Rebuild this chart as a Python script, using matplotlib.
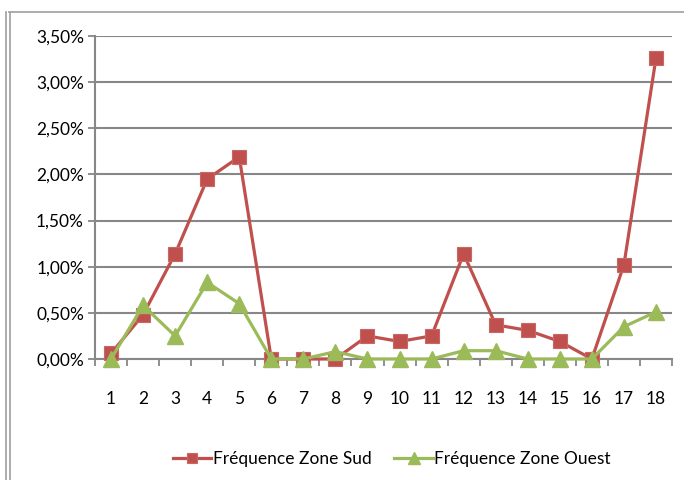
import matplotlib
matplotlib.use("Agg")
import matplotlib.pyplot as plt
from matplotlib.ticker import FuncFormatter, FixedLocator
from matplotlib.lines import Line2D

plt.rcParams['font.family'] = ['Lato', 'DejaVu Sans']

categories = list(range(1, 19))
sud = [0.06, 0.48, 1.14, 1.95, 2.19, 0.0, 0.0, 0.0, 0.25, 0.19, 0.25, 1.14, 0.37, 0.31, 0.19, 0.0, 1.02, 3.26]
ouest = [0.0, 0.58, 0.25, 0.83, 0.60, 0.0, 0.0, 0.08, 0.0, 0.0, 0.0, 0.09, 0.09, 0.0, 0.0, 0.0, 0.35, 0.51]
yticks = [0.0, 0.5, 1.0, 1.5, 2.0, 2.5, 3.0, 3.5]

W, H = 684, 480
fig = plt.figure(figsize=(W / 100, H / 100), dpi=100)
ax = fig.add_axes([95 / W, (H - 359) / H, (672 - 95) / W, (359 - 36) / H])

red = '#C0504D'
green = '#9BBB59'
grid = '#878787'
fs = 12.5

ax.plot(categories, sud, color=red, lw=2.3, marker='s', ms=9.5,
        mfc=red, mec='#C86864', mew=0.8, label='Fréquence Zone Sud', zorder=3,
        clip_on=False)
ax.plot(categories, ouest, color=green, lw=2.3, marker='^', ms=11,
        mfc=green, mec=green, label='Fréquence Zone Ouest', zorder=4,
        clip_on=False)

ax.set_xlim(0.5, 18.5)
ax.set_ylim(0, 3.5)
ax.set_yticks(yticks)
ax.yaxis.set_major_formatter(FuncFormatter(lambda v, p: f"{v:.2f}".replace('.', ',') + '%'))
ax.set_xticks(categories)
ax.set_xticklabels([str(c) for c in categories])
ax.xaxis.set_minor_locator(FixedLocator([i + 0.5 for i in range(0, 19)]))

ax.tick_params(axis='x', which='major', length=0, pad=23, labelsize=fs, colors='black')
ax.tick_params(axis='x', which='minor', length=5, width=1.3, color=grid, direction='out')
ax.tick_params(axis='y', which='major', length=5, width=1.3, color=grid, pad=3, labelsize=fs)

ax.grid(axis='y', color=grid, lw=1.5, zorder=0)
ax.set_axisbelow(True)
for s in ['top', 'right']:
    ax.spines[s].set_visible(False)
ax.spines['left'].set_color(grid)
ax.spines['left'].set_linewidth(1.5)
ax.spines['bottom'].set_color(grid)
ax.spines['bottom'].set_linewidth(1.5)

leg = fig.legend(loc='center', bbox_to_anchor=(392 / W, (H - 459) / H), ncol=2,
                 frameon=False, fontsize=fs, handlelength=2.2, handletextpad=0.1,
                 columnspacing=1.3, markerscale=0.8)

# outer frame lines
bc = '#A6A6A6'
fig.add_artist(Line2D([5.5 / W, 5.5 / W], [0, (H - 12) / H], color=bc, lw=1.3, transform=fig.transFigure))
fig.add_artist(Line2D([9.5 / W, 9.5 / W], [0, (H - 12) / H], color=bc, lw=1.3, transform=fig.transFigure))
fig.add_artist(Line2D([9 / W, 1], [(H - 12) / H, (H - 12) / H], color=bc, lw=1.3, transform=fig.transFigure))

fig.savefig('out.png', dpi=100)
